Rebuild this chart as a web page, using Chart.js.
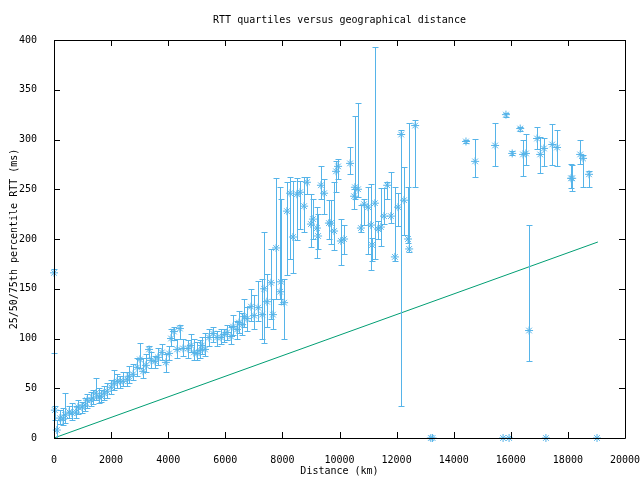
<!DOCTYPE html>
<html>
<head>
  <meta charset="UTF-8">
  <title>RTT quartiles versus geographical distance</title>
  <script src="https://cdn.jsdelivr.net/npm/chart.js"></script>
  <style>
    html, body { margin: 0; padding: 0; background: #fff; }
    canvas { display: block; }
  </style>
</head>
<body>
  <canvas id="rtt" width="640" height="480"></canvas>

  <script>
    // distance (km) and the 25th / 50th / 75th percentile RTT (ms)
    const dist = [0, 30, 100, 210, 320, 390, 530, 630, 770, 840, 980, 1090, 1160, 1300, 1370, 1470, 1580, 1650, 1750, 1860,
      2000, 2100, 2210, 2310, 2420, 2560, 2630, 2770, 2910, 3010, 3120, 3220, 3330, 3400, 3540, 3640, 3780, 3920, 4030, 4100,
      4200, 4310, 4410, 4520, 4690, 4800, 4900, 5010, 5110, 5180, 5290, 5430, 5570, 5710, 5850, 5960, 6060, 6200, 6270, 6410,
      6480, 6590, 6660, 6760, 6900, 7010, 7150, 7290, 7360, 7460, 7600, 7670, 7780, 7920, 7950, 8060, 8160, 8270, 8370, 8510,
      8620, 8760, 8860, 9000, 9070, 9210, 9250, 9350, 9460, 9630, 9700, 9810, 9880, 9950, 10050, 10160, 10370, 10510, 10540, 10650,
      10750, 10860, 11000, 11100, 11140, 11240, 11350, 11450, 11560, 11670, 11800, 11940, 12050, 12160, 12260, 12400, 12440, 12650,
      13200, 13260, 14430, 14750, 15450, 15730, 15830, 15940, 16050, 16330, 16430, 16530, 16640, 16920, 17030, 17160, 17230, 17450,
      17620, 18110, 18150, 18430, 18530, 18740, 19020];
    const q25 = [85, 18, 0, 14, 13, 15, 20, 18, 20, 24, 25, 27, 30, 32, 34, 38, 35, 36, 38, 40,
      44, 48, 50, 50, 52, 52, 55, 58, 62, 70, 60, 66, 80, 70, 70, 73, 78, 66, 78, 92,
      98, 80, 100, 82, 80, 86, 78, 78, 80, 84, 82, 92, 96, 92, 94, 96, 98, 94, 104, 100,
      106, 104, 112, 108, 118, 110, 118, 100, 95, 112, 120, 110, 140, 140, 135, 100, 164, 180, 166, 199,
      210, 207, 245, 192, 200, 181, 190, 240, 225, 200, 195, 189, 247, 260, 174, 185, 265, 230, 240, 242,
      207, 214, 185, 169, 178, 180, 200, 193, 215, 240, 216, 178, 213, 32, 204, 196, 187, 252,
      0, 0, 296, 262, 273, 0, 323, 0, 284, 309, 263, 274, 77, 290, 266, 273, 0, 274,
      273, 251, 248, 275, 252, 252, 0];
    const q50 = [166, 28, 8, 20, 19, 23, 26, 25, 26, 31, 31, 33, 38, 38, 40, 45, 41, 42, 45, 47,
      51, 55, 57, 57, 57, 59, 62, 64, 71, 79, 67, 73, 89, 78, 77, 81, 86, 76, 85, 100,
      107, 89, 110, 90, 90, 93, 86, 85, 88, 93, 89, 101, 105, 101, 101, 104, 106, 102, 112, 109,
      116, 114, 122, 120, 132, 123, 131, 124, 150, 137, 156, 124, 191, 147, 157, 136, 228, 246, 202, 245,
      247, 233, 257, 215, 220, 211, 203, 254, 246, 216, 216, 208, 268, 273, 198, 200, 276, 243, 252, 250,
      211, 235, 232, 214, 194, 236, 210, 212, 223, 254, 223, 182, 232, 305, 239, 200, 190, 314,
      0, 0, 298, 278, 294, 0, 325, 0, 286, 311, 285, 286, 108, 301, 285, 291, 0, 295,
      292, 261, 261, 285, 281, 265, 0];
    const q75 = [170, 32, 18, 28, 30, 45, 32, 35, 32, 38, 36, 40, 44, 46, 48, 60, 50, 48, 52, 55,
      58, 68, 64, 62, 66, 66, 72, 74, 80, 95, 80, 84, 92, 86, 82, 90, 94, 84, 92, 110,
      112, 100, 114, 100, 98, 105, 100, 96, 98, 102, 106, 110, 112, 108, 110, 110, 114, 112, 124, 118,
      128, 126, 140, 132, 150, 144, 158, 160, 207, 165, 190, 140, 261, 252, 240, 160, 257, 262, 258, 261,
      258, 262, 262, 245, 240, 232, 225, 273, 260, 239, 239, 257, 278, 280, 220, 214, 292, 250, 324, 337,
      234, 240, 252, 255, 201, 393, 218, 251, 251, 257, 267, 252, 246, 310, 272, 252, 317, 320,
      0, 0, 300, 301, 317, 0, 327, 0, 288, 313, 300, 306, 214, 313, 303, 302, 0, 316,
      310, 275, 274, 300, 284, 268, 0];

    // reference line (propagation delay)
    const refX = [0, 19050];
    const refY = [0, 197];

    const xTicks = [0, 2000, 4000, 6000, 8000, 10000, 12000, 14000, 16000, 18000, 20000];
    const yTicks = [0, 50, 100, 150, 200, 250, 300, 350, 400];

    const blue = '#56b4e9';
    const green = '#009e73';
    const mono = '"DejaVu Sans Mono", monospace';

    // quartile error bars drawn through the chart scales
    const errorBars = {
      id: 'errorBars',
      afterDatasetsDraw(chart) {
        const { ctx, scales: { x, y } } = chart;
        ctx.save();
        ctx.strokeStyle = blue;
        ctx.lineWidth = 1;
        dist.forEach((d, i) => {
          if (q75[i] === q25[i]) return;
          const px = Math.round(x.getPixelForValue(d)) + 0.5;
          const top = Math.round(y.getPixelForValue(q75[i])) + 0.5;
          const bot = Math.round(y.getPixelForValue(q25[i])) + 0.5;
          ctx.beginPath();
          ctx.moveTo(px, top); ctx.lineTo(px, bot);
          ctx.moveTo(px - 3, top); ctx.lineTo(px + 3, top);
          ctx.moveTo(px - 3, bot); ctx.lineTo(px + 3, bot);
          ctx.stroke();
        });
        ctx.restore();
      }
    };

    // gnuplot style frame with inward ticks on all four sides, plus the title
    const frame = {
      id: 'frame',
      afterDraw(chart) {
        const { ctx, chartArea: a, scales: { x, y } } = chart;
        ctx.save();
        ctx.strokeStyle = '#000';
        ctx.lineWidth = 1;
        ctx.beginPath();
        ctx.rect(a.left + 0.5, a.top + 0.5, a.right - a.left, a.bottom - a.top);
        xTicks.forEach(v => {
          const px = Math.round(x.getPixelForValue(v)) + 0.5;
          ctx.moveTo(px, a.bottom); ctx.lineTo(px, a.bottom - 6);
          ctx.moveTo(px, a.top); ctx.lineTo(px, a.top + 6);
        });
        yTicks.forEach(v => {
          const py = Math.round(y.getPixelForValue(v)) + 0.5;
          ctx.moveTo(a.left, py); ctx.lineTo(a.left + 6, py);
          ctx.moveTo(a.right, py); ctx.lineTo(a.right - 6, py);
        });
        ctx.stroke();
        ctx.fillStyle = '#000';
        ctx.font = '10px ' + mono;
        ctx.textAlign = 'center';
        ctx.textBaseline = 'middle';
        ctx.fillText('RTT quartiles versus geographical distance', (a.left + a.right) / 2, 20);
        ctx.restore();
      }
    };

    new Chart(document.getElementById('rtt'), {
      type: 'scatter',
      data: {
        datasets: [{
          label: 'RTT',
          data: dist.map((d, i) => ({ x: d, y: q50[i] })),
          pointStyle: 'star',
          pointRadius: 4,
          borderColor: blue,
          backgroundColor: blue,
          borderWidth: 1,
          clip: false
        }, {
          type: 'line',
          label: 'ref',
          data: refX.map((d, i) => ({ x: d, y: refY[i] })),
          borderColor: green,
          borderWidth: 1,
          pointRadius: 0,
          fill: false
        }]
      },
      options: {
        responsive: false,
        animation: false,
        layout: { autoPadding: false, padding: { left: 0, top: 40, right: 15, bottom: 0 } },
        plugins: { legend: { display: false }, tooltip: { enabled: false } },
        scales: {
          x: {
            type: 'linear', min: 0, max: 20000,
            afterFit: s => { s.height = 42; s.paddingLeft = 0; s.paddingRight = 0; },
            afterBuildTicks: s => { s.ticks = xTicks.map(v => ({ value: v })); },
            grid: { display: false },
            border: { display: false },
            ticks: { color: '#000', font: { family: mono, size: 10 }, padding: 8, maxRotation: 0, callback: v => v },
            title: { display: true, text: 'Distance (km)', color: '#000', font: { family: mono, size: 10 }, padding: { top: 0, bottom: 3 } }
          },
          y: {
            type: 'linear', min: 0, max: 400,
            afterFit: s => { s.width = 54; s.paddingTop = 0; s.paddingBottom = 0; },
            afterBuildTicks: s => { s.ticks = yTicks.map(v => ({ value: v })); },
            grid: { display: false },
            border: { display: false },
            ticks: { color: '#000', font: { family: mono, size: 10 }, padding: 9, callback: v => v },
            title: { display: true, text: '25/50/75th percentile RTT (ms)', color: '#000', font: { family: mono, size: 10 }, padding: { top: 8, bottom: 0 } }
          }
        }
      },
      plugins: [errorBars, frame]
    });
  </script>
</body>
</html>
